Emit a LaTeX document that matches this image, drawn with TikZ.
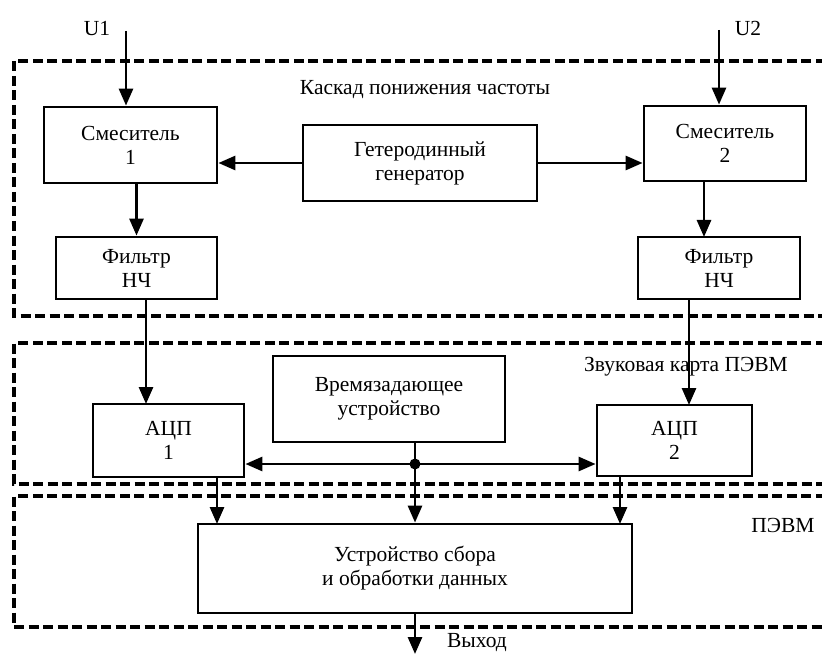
\documentclass[tikz,border=0pt]{standalone}
\usepackage{fontspec}
\setmainfont{Liberation Serif}
\usetikzlibrary{arrows.meta}

\tikzset{
  blk/.style = {draw, line width=2.8pt, align=center, inner sep=0pt},
  grp/.style = {line width=4pt, dash pattern=on 10pt off 4.5pt},
  arr/.style = {line width=2.8pt, -{Triangle[length=17pt,width=14pt]}},
  lbl/.style = {inner sep=0pt}
}

\begin{document}
\begin{tikzpicture}[x=1pt, y=-1pt, font=\fontsize{21.5}{24}\selectfont]
  \useasboundingbox[fill=white] (0,0) rectangle (822,655);

  %%% dashed groups %%%
  \draw[grp] (840,61)  -- (14,61)  -- (14,316) -- (840,316);
  \draw[grp] (840,343) -- (14,343) -- (14,484) -- (840,484);
  \draw[grp] (840,496) -- (14,496) -- (14,627) -- (840,627);

  % group titles
  \node[lbl] (tcasc) at (425,90)  {Каскад понижения частоты};
  \node[lbl] (tcard) at (686,367) {Звуковая карта ПЭВМ};
  \node[lbl] (tpc)   at (783,525) {ПЭВМ};

  %%% frequency down-conversion %%%
  \node[blk, minimum width=173, minimum height=76] (mix1) at (130.5,145) {Смеситель\\1};
  \node[blk, minimum width=234, minimum height=76] (het)  at (420,163)   {Гетеродинный\\генератор};
  \node[blk, minimum width=162, minimum height=75] (mix2) at (725,143.5) {Смеситель\\2};
  \node[blk, minimum width=161, minimum height=62] (flt1) at (136.5,268) {Фильтр\\НЧ};
  \node[blk, minimum width=162, minimum height=62] (flt2) at (719,268)   {Фильтр\\НЧ};

  %%% sound card %%%
  \node[blk, minimum width=151, minimum height=73] (adc1) at (168.5,440.5) {АЦП\\1};
  \node[blk, minimum width=232, minimum height=86] (tim)  at (389,399)     {Времязадающее\\устройство};
  \node[blk, minimum width=155, minimum height=71] (adc2) at (674.5,440.5) {АЦП\\2};

  %%% computer %%%
  \node[blk, minimum width=434, minimum height=89] (dev) at (415,568.5) {Устройство сбора\\и обработки данных};

  % inputs and output
  \coordinate (in1) at (126,31);
  \coordinate (in2) at (719,30);
  \node[lbl, anchor=south] (u1) at (97,36) {U1};
  \node[lbl, anchor=south] (u2) at (748,36) {U2};
  \coordinate (out) at (415,654);
  \node[lbl] (tout) at (477,643) {Выход};

  %%% connectors %%%
  \draw[arr] (in1) -- (in1 |- mix1.north);
  \draw[arr] (in2) -- (in2 |- mix2.north);
  \draw[arr] (het.west) -- (het.west -| mix1.east);
  \draw[arr] (het.east) -- (het.east -| mix2.west);
  \draw[arr] (flt1.north |- mix1.south) -- (flt1.north);
  \draw[arr] (704,181) -- (704,237);
  \draw[arr] (146,299) -- (146,404);
  \draw[arr] (689,299) -- (689,405);

  % clock distribution
  \coordinate (tap) at (415,464);
  \draw[arr] (dev.north |- tim.south) -- (dev.north);
  \draw[arr] (tap) -- (tap -| adc1.east);
  \draw[arr] (tap) -- (tap -| adc2.west);
  \fill (tap) circle (5.5);

  % into the collector
  \draw[arr] (217,477) -- (217,524);
  \draw[arr] (620,476) -- (620,524);
  \draw[arr] (dev.south) -- (out);
\end{tikzpicture}
\end{document}
